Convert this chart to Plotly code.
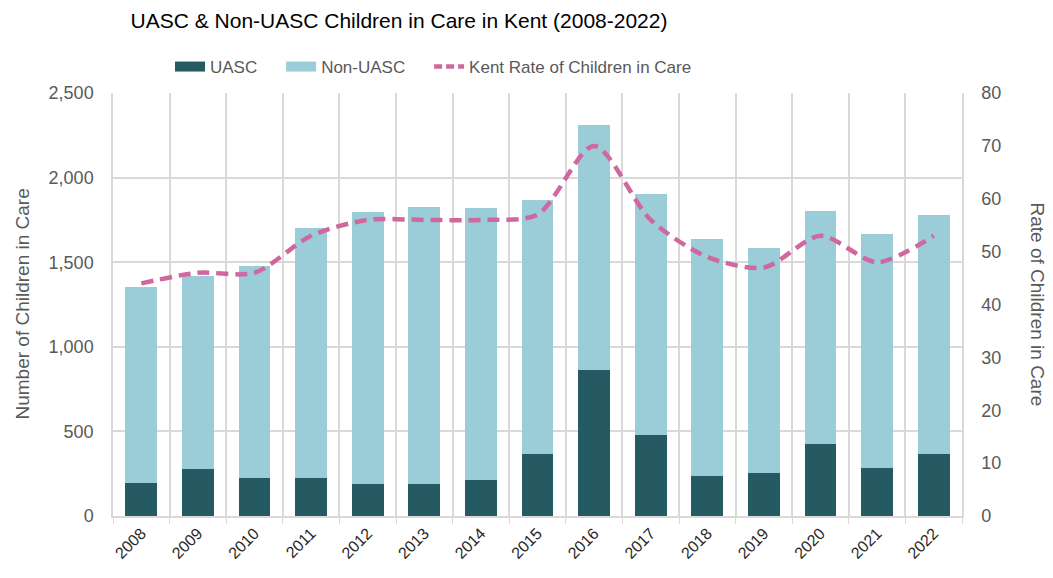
import plotly.graph_objects as go

years = [str(y) for y in range(2008, 2023)]
uasc = [197, 278, 227, 227, 189, 187, 211, 367, 863, 479, 237, 252, 424, 286, 367]
non_uasc = [1159, 1142, 1253, 1473, 1608, 1641, 1609, 1503, 1448, 1424, 1403, 1332, 1381, 1380, 1413]
rate = [44, 46, 46, 53, 56, 56, 56, 57, 70, 56, 49, 47, 53, 48, 53]

FONT = "Liberation Sans Narrow, Arial Narrow, Liberation Sans, Arial, sans-serif"
GREY = "#595959"
GRID = "#D9D9D9"
C_UASC = "#265A63"
C_NON = "#9ACDD7"
C_RATE = "#D0679E"

fig = go.Figure()
fig.add_trace(go.Bar(x=years, y=uasc, name="UASC", marker=dict(color=C_UASC, line=dict(width=0)),
                     showlegend=False))
fig.add_trace(go.Bar(x=years, y=non_uasc, name="Non-UASC", marker=dict(color=C_NON, line=dict(width=0)),
                     showlegend=False))
fig.add_trace(go.Scatter(x=years, y=rate, name="Kent Rate of Children in Care", yaxis="y2",
                         mode="lines", line=dict(color=C_RATE, width=4.5, dash="12px,7px", shape="spline",
                                                 smoothing=0.8),
                         showlegend=False))
# legend proxies
fig.add_trace(go.Scatter(x=[None], y=[None], mode="lines", name="UASC&nbsp;&nbsp;&nbsp;&nbsp;",
                         line=dict(color=C_UASC, width=12)))
fig.add_trace(go.Scatter(x=[None], y=[None], mode="lines", name="Non-UASC&nbsp;&nbsp;&nbsp;&nbsp;",
                         line=dict(color=C_NON, width=12)))
fig.add_trace(go.Scatter(x=[None], y=[None], mode="lines", name="Kent Rate of Children in Care",
                         line=dict(color=C_RATE, width=4.5, dash="8px,4px")))

fig.update_layout(
    width=1053, height=578,
    barmode="stack", bargap=0.44,
    plot_bgcolor="white", paper_bgcolor="white",
    margin=dict(l=113, r=91, t=93, b=62, autoexpand=False),
    font=dict(family=FONT, color=GREY),
    title=dict(text="UASC & Non-UASC Children in Care in Kent (2008-2022)",
               font=dict(size=21, color="#000000", family=FONT),
               x=399/1053, xanchor="center", xref="container",
               y=1-21/578, yanchor="middle", yref="container"),
    legend=dict(orientation="h", traceorder="normal", x=(170-113)/849, xanchor="left",
                y=1+(93-67)/423, yanchor="middle",
                font=dict(size=17, color=GREY, family=FONT), bgcolor="rgba(0,0,0,0)"),
    xaxis=dict(type="category", tickson="boundaries", showgrid=True, gridcolor=GRID, gridwidth=1.5,
               ticks="outside", ticklen=6, tickcolor=GRID, tickangle=-45,
               tickfont=dict(size=16, color="#262626"),
               showline=True, linecolor=GRID, linewidth=1.5, automargin=False, fixedrange=True),
    yaxis=dict(range=[0, 2500], dtick=500, tickformat=",", showgrid=True, gridcolor=GRID, gridwidth=1.5,
               zeroline=False, showline=True, linecolor=GRID, linewidth=1.5,
               tickfont=dict(size=18, color=GREY), ticklabelstandoff=14, automargin=False),
    yaxis2=dict(range=[0, 80], dtick=10, overlaying="y", side="right", showgrid=False, zeroline=False,
                showline=True, linecolor=GRID, linewidth=1.5,
                tickfont=dict(size=18, color=GREY), ticklabelstandoff=14, automargin=False),
    annotations=[
        dict(text="Number of Children in Care", xref="paper", yref="paper", x=0, y=0.5,
             xshift=-91, textangle=-90, showarrow=False, xanchor="center", yanchor="middle",
             font=dict(size=19, color=GREY, family=FONT)),
        dict(text="Rate of Children in Care", xref="paper", yref="paper", x=1, y=0.5,
             xshift=75, textangle=90, showarrow=False, xanchor="center", yanchor="middle",
             font=dict(size=19, color=GREY, family=FONT)),
    ],
)

fig.write_html("out.html")
